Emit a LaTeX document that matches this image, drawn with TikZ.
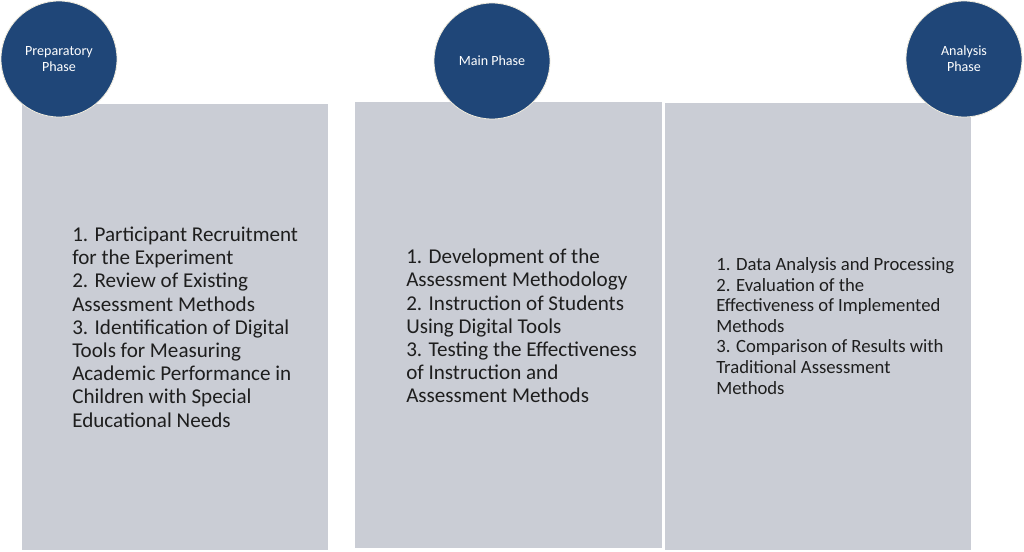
\documentclass[tikz,border=0pt]{standalone}
\usepackage{fontspec}
\setmainfont{Carlito}
\usetikzlibrary{positioning}

\definecolor{phaseblue}{HTML}{1F4678}
\definecolor{phaserim}{HTML}{EEEADC}
\definecolor{boxgray}{HTML}{CACDD5}
\definecolor{textdark}{HTML}{1E1E1E}

\tikzset{
  phase/.style={circle, fill=phaseblue, draw=phaserim, line width=0.6pt,
    minimum size=2.9cm, inner sep=0pt, text=white, align=center,
    font=\fontsize{10}{11.5}\selectfont},
  stagebox/.style={rectangle, fill=boxgray, draw=none, anchor=north west,
    minimum width=7.65cm, minimum height=11.15cm, inner sep=0pt},
  tasks/.style={anchor=west, align=left, text=textdark, inner sep=0pt}
}

\begin{document}
\begin{tikzpicture}
  \useasboundingbox (0,0) rectangle (25.6,-13.8);

  % stage boxes
  \node[stagebox] (prepbox) at (0.55,-2.6) {};
  \node[stagebox, minimum width=7.675cm] (mainbox) at (8.875,-2.55) {};
  \node[stagebox, minimum height=11.175cm] (anabox) at (16.625,-2.575) {};

  % task lists
  \node[tasks, font=\fontsize{15}{16.5}\selectfont] (preptasks) at (1.8,-8.175)
    {1. Participant Recruitment\\for the Experiment\\2. Review of Existing\\Assessment Methods\\3. Identification of Digital\\Tools for Measuring\\Academic Performance in\\Children with Special\\Educational Needs};
  \node[tasks, font=\fontsize{15}{16.5}\selectfont] (maintasks) at (10.15,-8.15)
    {1. Development of the\\Assessment Methodology\\2. Instruction of Students\\Using Digital Tools\\3. Testing the Effectiveness\\of Instruction and\\Assessment Methods};
  \node[tasks, font=\fontsize{13.3}{14.6}\selectfont] (anatasks) at (17.9,-8.15)
    {1. Data Analysis and Processing\\2. Evaluation of the\\Effectiveness of Implemented\\Methods\\3. Comparison of Results with\\Traditional Assessment\\Methods};

  % phase circles
  \node[phase] (prep) at (1.475,-1.475) {Preparatory\\Phase};
  \node[phase] (main) at (12.3,-1.525) {Main Phase};
  \node[phase] (ana) at (24.1,-1.475) {Analysis\\Phase};
\end{tikzpicture}
\end{document}
